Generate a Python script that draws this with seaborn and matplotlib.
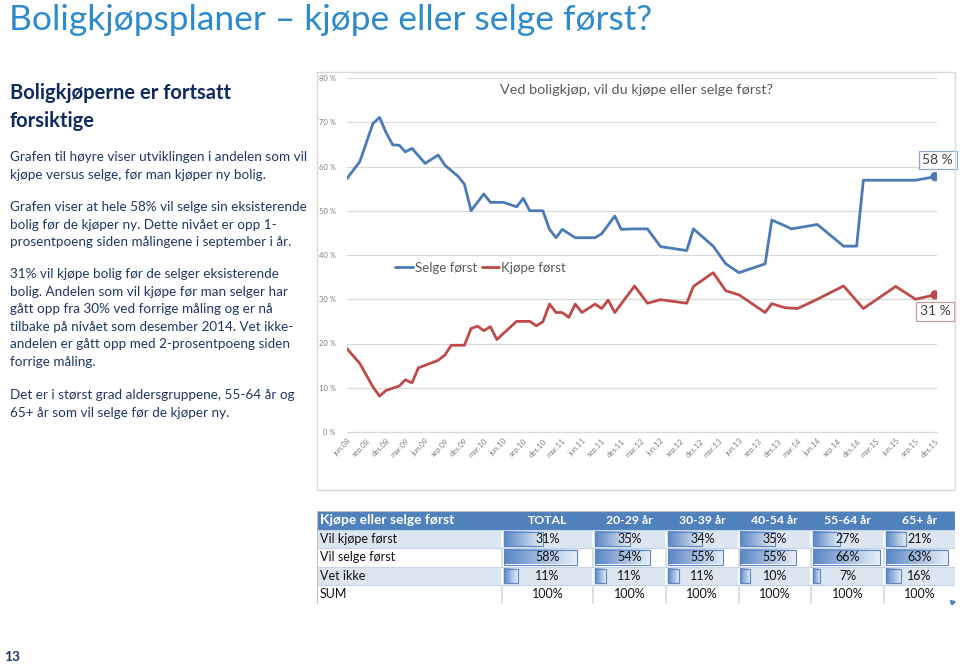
import matplotlib
matplotlib.use("Agg")
import matplotlib.pyplot as plt
import matplotlib.dates as mdates
from matplotlib.colors import LinearSegmentedColormap
from matplotlib.patches import Rectangle
from matplotlib.ticker import FuncFormatter, MultipleLocator
import numpy as np
import pandas as pd
import seaborn as sns

# --- chart data (share in %) ---
SELGE_MONTHS = [
    "2008-06", "2008-08", "2008-10", "2008-11", "2008-12", "2009-01", "2009-02",
    "2009-03", "2009-04", "2009-06", "2009-08", "2009-09", "2009-11", "2009-12",
    "2010-01", "2010-03", "2010-04", "2010-06", "2010-08", "2010-09", "2010-10",
    "2010-12", "2011-01", "2011-02", "2011-03", "2011-05", "2011-08", "2011-09",
    "2011-11", "2011-12", "2012-02", "2012-04", "2012-06", "2012-10", "2012-11",
    "2013-02", "2013-04", "2013-06", "2013-10", "2013-11", "2014-01", "2014-02",
    "2014-06", "2014-10", "2014-12", "2015-01", "2015-09", "2015-12",
]
SELGE_VALUES = [
    57.2, 61.1, 69.7, 71.1, 67.7, 64.9, 64.8,
    63.3, 64.1, 60.7, 62.6, 60.3, 57.8, 56.0,
    50.0, 53.8, 51.9, 51.9, 50.9, 52.8, 50.0,
    50.0, 45.8, 43.9, 45.8, 43.9, 43.9, 44.8,
    48.8, 45.8, 45.9, 45.9, 41.9, 41.0, 45.9,
    42.0, 38.0, 36.0, 38.0, 47.9, 46.6, 45.9,
    46.9, 42.0, 42.0, 56.9, 56.9, 57.7,
]
KJOPE_MONTHS = [
    "2008-06", "2008-08", "2008-10", "2008-11", "2008-12", "2009-02", "2009-03",
    "2009-04", "2009-05", "2009-08", "2009-09", "2009-10", "2009-12", "2010-01",
    "2010-02", "2010-03", "2010-04", "2010-05", "2010-08", "2010-10", "2010-11",
    "2010-12", "2011-01", "2011-02", "2011-03", "2011-04", "2011-05", "2011-06",
    "2011-08", "2011-09", "2011-10", "2011-11", "2012-02", "2012-04", "2012-06",
    "2012-10", "2012-11", "2013-02", "2013-04", "2013-06", "2013-10", "2013-11",
    "2014-01", "2014-03", "2014-06", "2014-10", "2015-01", "2015-06", "2015-09",
    "2015-12",
]
KJOPE_VALUES = [
    18.9, 15.5, 10.2, 8.1, 9.4, 10.4, 11.8,
    11.1, 14.5, 16.2, 17.4, 19.6, 19.6, 23.4,
    23.9, 22.9, 23.8, 20.9, 25.0, 25.0, 24.0,
    24.9, 28.9, 27.0, 27.0, 25.9, 28.9, 27.0,
    28.9, 27.9, 29.8, 27.0, 33.0, 29.1, 29.9,
    29.1, 32.9, 36.0, 31.9, 31.0, 27.0, 29.0,
    28.1, 27.9, 30.0, 33.0, 27.9, 32.9, 30.0,
    31.0,
]
SERIES_NAMES = ["Selge først", "Kjøpe først"]
LAST_LABELS = ["58 %", "31 %"]
NOR_MONTHS = {3: "mar", 6: "jun", 9: "sep", 12: "des"}

# --- table data ---
TABLE_HEADER = "Kjøpe eller selge først"
TABLE_COLUMNS = ["TOTAL", "20-29 år", "30-39 år", "40-54 år", "55-64 år", "65+ år"]
TABLE_ROWS = ["Vil kjøpe først", "Vil selge først", "Vet ikke", "SUM"]
VIL_KJOPE = [31, 35, 34, 35, 27, 21]
VIL_SELGE = [58, 54, 55, 55, 66, 63]
VET_IKKE = [11, 11, 11, 10, 7, 16]
SUM_ROW = [100, 100, 100, 100, 100, 100]

TITLE = "Boligkjøpsplaner – kjøpe eller selge først?"
HEADING = "Boligkjøperne er fortsatt\nforsiktige"
PARAGRAPHS = [
    ["Grafen til høyre viser utviklingen i andelen som vil",
     "kjøpe versus selge, før man kjøper ny bolig."],
    ["Grafen viser at hele 58% vil selge sin eksisterende",
     "bolig før de kjøper ny. Dette nivået er opp 1-",
     "prosentpoeng siden målingene i september i år."],
    ["31% vil kjøpe bolig før de selger eksisterende",
     "bolig. Andelen som vil kjøpe før man selger har",
     "gått opp fra 30% ved forrige måling og er nå",
     "tilbake på nivået som desember 2014. Vet ikke-",
     "andelen er gått opp med 2-prosentpoeng siden",
     "forrige måling."],
    ["Det er i størst grad aldersgruppene, 55-64 år og",
     "65+ år som vil selge før de kjøper ny."],
]
PAGE_NUMBER = "13"

BLUE = "#4A7BB7"
RED = "#BE4B48"
NAVY = "#1F3864"
W, H = 960, 664

sns.set_style("white")
plt.rcParams["font.family"] = ["Lato", "DejaVu Sans"]


def fx(px):
    return px / W


def fy(py):
    return 1 - py / H


fig = plt.figure(figsize=(9.6, 6.64), dpi=100)

# --- slide texts ---
fig.text(fx(9), fy(20), TITLE, fontsize=25.5, color="#2E8BCB", va="center")
fig.text(fx(10), fy(107), HEADING, fontsize=14.5, fontweight="bold", color="#0E2A5E",
         va="center", linespacing=1.45)
starts = [157, 207, 274, 395]
for start, lines in zip(starts, PARAGRAPHS):
    for i, line in enumerate(lines):
        fig.text(fx(10), fy(start + i * 17.6), line, fontsize=9.75, color=NAVY, va="center")
fig.text(fx(4), fy(657), PAGE_NUMBER, fontsize=10, fontweight="bold", color=NAVY, va="center")

# --- line chart ---
fig.patches.append(Rectangle((fx(317), fy(490)), fx(955) - fx(317), (490 - 72) / H,
                             transform=fig.transFigure, fill=False, ec="#D9D9D9", lw=1))
fig.text(fx(637), fy(90), "Ved boligkjøp, vil du kjøpe eller selge først?",
         fontsize=10.4, color="#595959", ha="center", va="center")

df = pd.concat([
    pd.DataFrame({"dato": pd.to_datetime(SELGE_MONTHS), "andel": SELGE_VALUES,
                  "serie": SERIES_NAMES[0]}),
    pd.DataFrame({"dato": pd.to_datetime(KJOPE_MONTHS), "andel": KJOPE_VALUES,
                  "serie": SERIES_NAMES[1]}),
], ignore_index=True)
palette = {SERIES_NAMES[0]: BLUE, SERIES_NAMES[1]: RED}

ax = fig.add_axes([fx(346.7), fy(432), fx(937) - fx(346.7), (432 - 78) / H])
sns.lineplot(data=df, x="dato", y="andel", hue="serie", palette=palette,
             linewidth=2.0, sort=False, ax=ax)
last = df.groupby("serie", sort=False).tail(1)
sns.scatterplot(data=last, x="dato", y="andel", hue="serie", palette=palette,
                s=45, edgecolor="none", legend=False, ax=ax, zorder=5)

ax.set_ylim(0, 80)
ax.set_xlim(pd.Timestamp("2008-06-01"), pd.Timestamp("2015-12-10"))
ax.yaxis.set_major_locator(MultipleLocator(10))
ax.yaxis.set_major_formatter(FuncFormatter(lambda v, pos: f"{v:.0f} %"))
ax.xaxis.set_major_locator(mdates.MonthLocator(bymonth=[3, 6, 9, 12]))


def quarter_label(v, pos):
    d = mdates.num2date(v)
    return f"{NOR_MONTHS.get(d.month, '')}.{d:%y}"


ax.xaxis.set_major_formatter(FuncFormatter(quarter_label))
ax.grid(axis="y", color="#D9D9D9", lw=0.9)
ax.set_axisbelow(True)
for side in ["top", "right", "left"]:
    ax.spines[side].set_visible(False)
ax.spines["bottom"].set_color("#D9D9D9")
ax.tick_params(axis="y", length=0, labelsize=5.5, labelcolor="#7F7F7F", pad=8)
ax.tick_params(axis="x", length=3, color="#D9D9D9", labelsize=5.5, labelcolor="#7F7F7F",
               pad=1)
for lab in ax.get_xticklabels():
    lab.set_rotation(45)
    lab.set_ha("right")
    lab.set_rotation_mode("anchor")
ax.set_xlabel("")
ax.set_ylabel("")

sns.move_legend(ax, "center", bbox_to_anchor=(0.227, 0.463), ncol=2, frameon=False,
                title=None, fontsize=9.5, handlelength=1.3, handletextpad=0.15,
                columnspacing=0.4, labelcolor="#595959")

offsets = [(2, 12), (0, -12)]
edge_cols = ["#8FA8CC", "#C89A99"]
for (_, row), text, off, ec in zip(last.iterrows(), LAST_LABELS, offsets, edge_cols):
    ax.annotate(text, xy=(row["dato"], row["andel"]), xytext=off, textcoords="offset points",
                ha="center", va="center", fontsize=10, color="#404040",
                bbox=dict(boxstyle="square,pad=0.25", fc="white", ec=ec, lw=0.9))

# --- table with data bars ---
tab = fig.add_axes([fx(317), fy(604), fx(955) - fx(317), (604 - 511) / H])
tab.axis("off")
col_edges = [317, 502, 593, 666, 738.5, 811, 884, 955]
row_edges = [511, 529.5, 548, 566.5, 585, 604]
row_bg = ["#DCE6F1", "white", "#DCE6F1", "white"]
bar_full = 71.5  # share (%) that fills a whole cell
bar_cmap = LinearSegmentedColormap.from_list("bar", ["#5B87C5", "#E8EFF8"])
grad = np.linspace(0, 1, 64).reshape(1, -1)

tab.add_patch(Rectangle((317, 511), 955 - 317, row_edges[1] - 511, fc="#4F81BD", ec="none"))
tab.text(320, (row_edges[0] + row_edges[1]) / 2, TABLE_HEADER, color="white",
         fontsize=9.9, fontweight="bold", va="center")
for c, name in enumerate(TABLE_COLUMNS):
    cx = (col_edges[c + 1] + col_edges[c + 2]) / 2
    tab.text(cx, (row_edges[0] + row_edges[1]) / 2, name, color="white", fontsize=8.8,
             fontweight="bold", ha="center", va="center")

rows_values = [VIL_KJOPE, VIL_SELGE, VET_IKKE, SUM_ROW]
for r, (label, values) in enumerate(zip(TABLE_ROWS, rows_values)):
    top, bottom = row_edges[r + 1], row_edges[r + 2]
    cy = (top + bottom) / 2
    tab.add_patch(Rectangle((317, top), 955 - 317, bottom - top, fc=row_bg[r], ec="none"))
    tab.text(320, cy, label, fontsize=9, color="#111111", va="center")
    for c, v in enumerate(values):
        left, right = col_edges[c + 1], col_edges[c + 2]
        if label != "SUM":
            bw = v / bar_full * (right - left)
            tab.imshow(grad, extent=[left + 1.5, left + 1.5 + bw, bottom - 2, top + 2],
                       aspect="auto", cmap=bar_cmap, zorder=2, interpolation="bilinear")
            tab.barh(cy, bw, left=left + 1.5, height=bottom - top - 4, color="none",
                     edgecolor="#5B87C5", lw=0.8, zorder=3)
        tab.text((left + right) / 2, cy, f"{v}%", fontsize=9, color="#111111",
                 ha="center", va="center", zorder=4)
    sep_col = "white" if row_bg[r] != "white" else "#D9D9D9"
    tab.vlines(col_edges[1:-1], top, bottom, colors=sep_col, lw=1.2, zorder=1.5)
tab.hlines(row_edges[1:-1], 317, 955, colors="#C6D4E7", lw=0.8, zorder=1.6)
tab.add_patch(Rectangle((317, 511), 955 - 317, 604 - 511, fill=False, ec="#BFBFBF", lw=0.8))
tab.plot([951.5], [601.5], marker=(3, 0, 45), color="#4F81BD", ms=4, zorder=5)
tab.set_xlim(317, 955)
tab.set_ylim(604, 511)

fig.savefig("out.png", dpi=100)
